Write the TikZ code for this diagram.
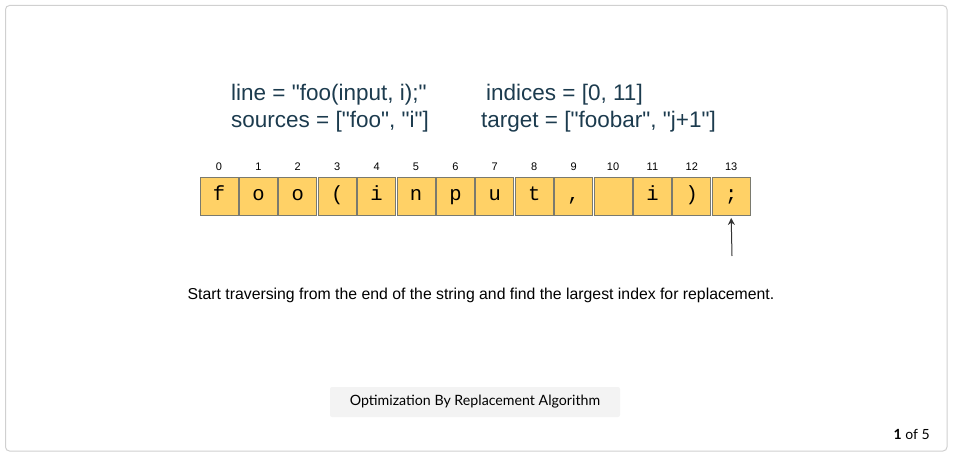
\documentclass[tikz,border=0pt]{standalone}
\usepackage{fontspec}
\setmainfont{Liberation Sans}[Ligatures=TeXOff]
\newfontfamily\monof{Liberation Mono}
\newfontfamily\btnf{Lato}
\usetikzlibrary{arrows.meta}
\definecolor{cellfill}{HTML}{FFD166}
\definecolor{celldraw}{HTML}{7A7A6E}
\definecolor{headtxt}{HTML}{1C3B4E}
\definecolor{frame}{HTML}{D0D0D0}
\definecolor{btnfill}{HTML}{F3F3F3}
\newcommand\dq{\symbol{34}}
\tikzset{
  cellbox/.style={draw=celldraw, line width=0.9pt, fill=cellfill, minimum width=38pt, minimum height=38pt, inner sep=0pt, text height=13pt, text depth=4pt, font=\monof\fontsize{20.5}{20.5}\selectfont},
  idxlbl/.style={font=\fontsize{11}{11}\selectfont, inner sep=0pt},
  headline/.style={anchor=base west, inner sep=0pt, text=headtxt, font=\fontsize{22.5}{22.5}\selectfont},
}
\begin{document}
\begin{tikzpicture}[x=1pt,y=-1pt]
\useasboundingbox (0,0) rectangle (953,457);
\draw[frame, line width=1pt, rounded corners=4pt] (5.5,5.5) rectangle (947,451);
\node[headline] (l1) at (231,101) {line = \dq foo(input, i);\dq};
\node[headline] (l2) at (486,101) {indices = [0, 11]};
\node[headline] (l3) at (231,128) {sources = [\dq foo\dq, \dq i\dq]};
\node[headline] (l4) at (481,128) {target = [\dq foobar\dq, \dq j+1\dq]};
\foreach \i/\c in {0/f,1/o,2/o,3/(,4/i,5/n,6/p,7/u,8/t,9/{,},10/{},11/i,12/),13/;} {
  \node[cellbox] (c\i) at ({219+39.4*\i},196) {\c};
  \node[idxlbl] (n\i) at ({219+39.4*\i},167) {\i};
}
\coordinate (arrstart) at (732,256);
\draw[-{Stealth[length=7pt,width=7pt]}, line width=1pt, black!80] (arrstart) -- ([yshift=-2.5pt]c13.south);
\node[font=\fontsize{15.8}{15.8}\selectfont, inner sep=0pt] (cap) at (481,295) {Start traversing from the end of the string and find the largest index for replacement.};
\node[fill=btnfill, rounded corners=2pt, minimum width=290pt, minimum height=30pt, inner sep=0pt, font=\btnf\fontsize{14.2}{14.2}\selectfont] (btn) at (475,402) {Optimization By Replacement Algorithm};
\node[anchor=east, inner sep=0pt, font=\btnf\fontsize{14}{14}\selectfont] (pg) at (930,434) {\textbf{1} of 5};
\end{tikzpicture}
\end{document}
